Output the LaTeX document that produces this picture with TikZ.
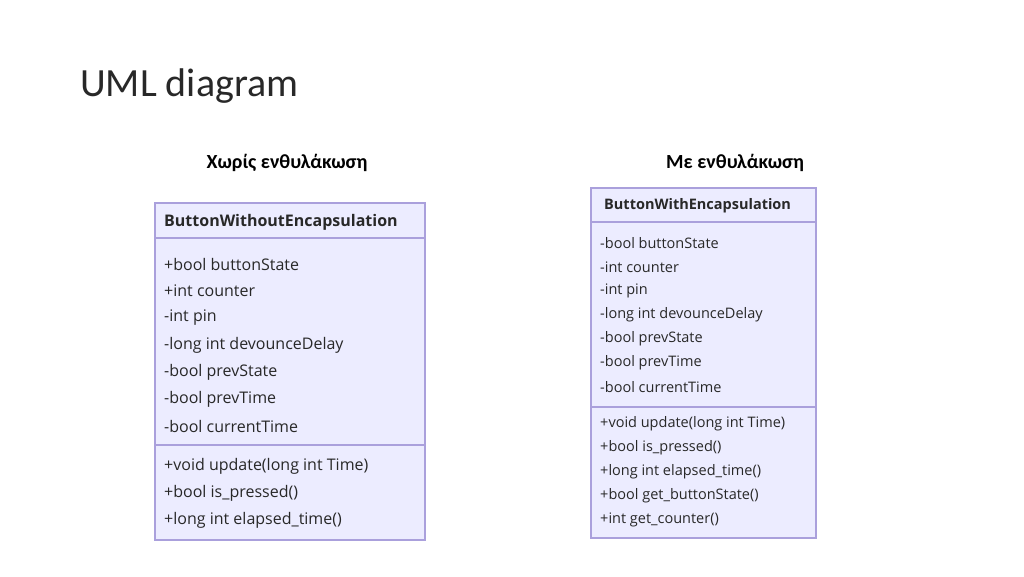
\documentclass[tikz,border=0pt]{standalone}
\usepackage{fontspec}
\setmainfont{Carlito}
\newfontfamily\boxfont{Open Sans}
\definecolor{boxfill}{RGB}{236,236,255}
\definecolor{boxline}{RGB}{170,160,220}
\definecolor{txt}{RGB}{40,40,40}
\begin{document}
\begin{tikzpicture}[x=1pt,y=-1pt,
  box/.style={draw=boxline,fill=boxfill,line width=1.5pt},
  sep/.style={draw=boxline,line width=1.5pt},
  ltxt/.style={anchor=west,inner sep=0pt,font=\boxfont\fontsize{16}{18}\selectfont,text=txt},
  rtxt/.style={anchor=west,inner sep=0pt,font=\boxfont\fontsize{14.5}{17}\selectfont,text=txt},
  head/.style={inner sep=0pt,font=\bfseries\fontsize{20}{24}\selectfont}]
\useasboundingbox (0,0) rectangle (1024,576);
\node[anchor=west,inner sep=0pt,font=\fontsize{40}{48}\selectfont,text=txt] (title) at (80,86) {UML diagram};
\node[head] (h1) at (287,163) {Χωρίς ενθυλάκωση};
\node[head] (h2) at (735,163) {Με ενθυλάκωση};
% left box
\draw[box] (155,203) rectangle (425,540);
\draw[sep] (155,238) -- (425,238);
\draw[sep] (155,445) -- (425,445);
\node[ltxt,font=\boxfont\bfseries\fontsize{16}{18}\selectfont] (l0) at (164,222) {ButtonWithoutEncapsulation};
\foreach \t [count=\i] in {+bool buttonState,+int counter,-int pin,-long int devounceDelay,-bool prevState,-bool prevTime,-bool currentTime}
  \node[ltxt] (la\i) at (164,{237+27*\i}) {\t};
\foreach \t [count=\i] in {+void update(long int Time),+bool is\_pressed(),+long int elapsed\_time()}
  \node[ltxt] (lm\i) at (164,{439+27*\i}) {\t};
% right box
\draw[box] (591,188) rectangle (816,538);
\draw[sep] (591,222) -- (816,222);
\draw[sep] (591,407) -- (816,407);
\node[rtxt,font=\boxfont\bfseries\fontsize{14.5}{17}\selectfont] (r0) at (604,206) {ButtonWithEncapsulation};
\foreach \t [count=\i] in {-bool buttonState,-int counter,-int pin,-long int devounceDelay,-bool prevState,-bool prevTime,-bool currentTime}
  \node[rtxt] (ra\i) at (600,{219+24*\i}) {\t};
\foreach \t [count=\i] in {+void update(long int Time),+bool is\_pressed(),+long int elapsed\_time(),+bool get\_buttonState(),+int get\_counter()}
  \node[rtxt] (rm\i) at (600,{400+24*\i}) {\t};
\end{tikzpicture}
\end{document}
